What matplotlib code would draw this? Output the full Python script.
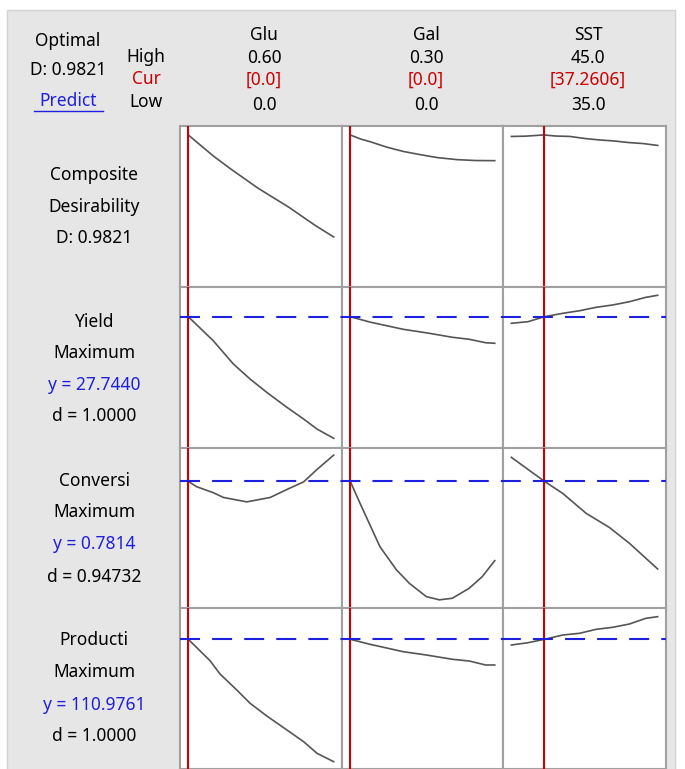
import matplotlib
matplotlib.use("Agg")
import matplotlib.pyplot as plt
from matplotlib.patches import Rectangle
from matplotlib.lines import Line2D
from matplotlib.transforms import blended_transform_factory

plt.rcParams['font.family'] = ['Noto Sans', 'DejaVu Sans']

# ---------------- data ----------------
factors = ['Glu', 'Gal', 'SST']
high_labels = ['0.60', '0.30', '45.0']
cur_labels = ['[0.0]', '[0.0]', '[37.2606]']
low_labels = ['0.0', '0.0', '35.0']
low_vals = [0.0, 0.0, 35.0]
high_vals = [0.6, 0.3, 45.0]
cur_vals = [0.0, 0.0, 37.2606]

resp_names = ['Yield', 'Conversi', 'Producti']
resp_goals = ['Maximum', 'Maximum', 'Maximum']
resp_y = [27.7440, 0.7814, 110.9761]
resp_y_labels = ['y = 27.7440', 'y = 0.7814', 'y = 110.9761']
resp_d_labels = ['d = 1.0000', 'd = 0.94732', 'd = 1.0000']
composite_D = 0.9821

# Composite desirability traces
D_glu_x = [0, 0.105, 0.175, 0.287, 0.414, 0.526, 0.6]
D_glu_y = [0.9821, 0.835, 0.748, 0.616, 0.485, 0.356, 0.279]
D_gal_x = [0, 0.021, 0.042, 0.076, 0.111, 0.146, 0.181, 0.222, 0.26, 0.3]
D_gal_y = [0.9821, 0.955, 0.935, 0.898, 0.868, 0.846, 0.826, 0.812, 0.806, 0.805]
D_sst_x = [35, 36, 37, 37.2606, 38, 39, 40, 41, 42, 43, 44, 45]
D_sst_y = [0.972, 0.974, 0.981, 0.9821, 0.975, 0.972, 0.958, 0.948, 0.941, 0.930, 0.923, 0.910]

# Yield traces
Y_glu_x = [0, 0.103, 0.186, 0.255, 0.324, 0.407, 0.476, 0.531, 0.6]
Y_glu_y = [27.744, 24.74, 21.83, 19.95, 18.28, 16.41, 14.95, 13.70, 12.54]
Y_gal_x = [0, 0.041, 0.110, 0.164, 0.212, 0.247, 0.281, 0.3]
Y_gal_y = [27.744, 27.07, 26.17, 25.67, 25.17, 24.92, 24.49, 24.42]
Y_sst_x = [35, 36.14, 37.2606, 38.52, 39.66, 40.80, 41.93, 43.07, 44.20, 45]
Y_sst_y = [26.92, 27.12, 27.744, 28.17, 28.49, 28.92, 29.21, 29.62, 30.17, 30.42]

# Conversion traces
C_glu_x = [0, 0.034, 0.103, 0.145, 0.241, 0.338, 0.407, 0.476, 0.531, 0.6]
C_glu_y = [0.7814, 0.768, 0.753, 0.741, 0.730, 0.741, 0.761, 0.780, 0.811, 0.847]
C_gal_x = [0, 0.0205, 0.0616, 0.0959, 0.123, 0.158, 0.185, 0.212, 0.247, 0.274, 0.3]
C_gal_y = [0.7814, 0.726, 0.618, 0.560, 0.526, 0.493, 0.485, 0.489, 0.514, 0.543, 0.583]
C_sst_x = [35, 37.2606, 38.52, 40.11, 41.7, 43.07, 45]
C_sst_y = [0.8414, 0.7814, 0.751, 0.7014, 0.666, 0.6264, 0.5622]

# Productivity traces
P_glu_x = [0, 0.0897, 0.131, 0.200, 0.255, 0.324, 0.407, 0.476, 0.531, 0.6]
P_glu_y = [110.98, 100.28, 93.63, 85.63, 78.98, 72.63, 65.63, 59.78, 53.98, 49.78]
P_gal_x = [0, 0.041, 0.110, 0.158, 0.212, 0.247, 0.281, 0.3]
P_gal_y = [110.98, 108.48, 104.78, 103.13, 100.98, 100.13, 98.13, 98.13]
P_sst_x = [35, 36.14, 37.2606, 38.52, 39.66, 40.80, 41.93, 43.07, 44.20, 45]
P_sst_y = [108.13, 109.28, 110.98, 113.13, 113.98, 115.98, 116.98, 118.63, 121.48, 122.28]

row_ylims = [(-0.066, 1.044), (11.33, 31.457), (0.4646, 0.8647), (46.13, 126.63)]

traces = [
    [(D_glu_x, D_glu_y), (D_gal_x, D_gal_y), (D_sst_x, D_sst_y)],
    [(Y_glu_x, Y_glu_y), (Y_gal_x, Y_gal_y), (Y_sst_x, Y_sst_y)],
    [(C_glu_x, C_glu_y), (C_gal_x, C_gal_y), (C_sst_x, C_sst_y)],
    [(P_glu_x, P_glu_y), (P_gal_x, P_gal_y), (P_sst_x, P_sst_y)],
]

# ---------------- layout ----------------
W, H = 685, 769
fig = plt.figure(figsize=(W / 100, H / 100), dpi=100)
fig.patch.set_facecolor('white')

bg = Rectangle((7 / W, -0.01), (675 - 7) / W, (769 - 10) / H + 0.01,
               transform=fig.transFigure, facecolor='#e6e6e6',
               edgecolor='#d2d2d2', lw=1.0, zorder=-5)
fig.patches.append(bg)

col_edges = [180, 342, 503, 666]
row_edges = [126, 287, 448, 608, 769]

GRID = '#a0a0a0'
RED = '#cc0000'
BLUE = '#1f1fe0'
CURVE = '#555555'
FS = 12.5


def fx(px):
    return px / W


def fy(py):
    return 1 - py / H


def ftext(x, y, s, **kw):
    kw.setdefault('fontsize', FS)
    kw.setdefault('ha', 'center')
    kw.setdefault('va', 'center')
    return fig.text(fx(x), fy(y), s, **kw)


axes = []
for r in range(4):
    row_axes = []
    for c in range(3):
        x0, x1 = col_edges[c], col_edges[c + 1]
        y0, y1 = row_edges[r], row_edges[r + 1]
        ax = fig.add_axes([fx(x0), fy(y1), (x1 - x0) / W, (y1 - y0) / H])
        ax.set_facecolor('white')
        span = high_vals[c] - low_vals[c]
        m = 0.057 * span
        ax.set_xlim(low_vals[c] - m, high_vals[c] + m)
        ax.set_ylim(*row_ylims[r])
        ax.set_xticks([])
        ax.set_yticks([])
        for s in ax.spines.values():
            s.set_color(GRID)
            s.set_linewidth(1.5)
        xs, ys = traces[r][c]
        ax.plot(xs, ys, color=CURVE, lw=1.2, zorder=3)
        ax.axvline(cur_vals[c], color=RED, lw=1.5, zorder=4)
        row_axes.append(ax)
    axes.append(row_axes)

# dashed optimum lines across each response row
for r in range(1, 4):
    ax = axes[r][0]
    tr = blended_transform_factory(fig.transFigure, ax.transData)
    yv = resp_y[r - 1]
    ln = Line2D([fx(col_edges[0]), fx(col_edges[-1])], [yv, yv], transform=tr,
                color=BLUE, lw=1.5, zorder=5, clip_on=False)
    ln.set_dashes((9.6, 5.8))
    fig.add_artist(ln)

# ---------------- header ----------------
ftext(68, 41, 'Optimal')
ftext(68, 70, 'D: ' + f'{composite_D:.4f}')
ftext(68, 101, 'Predict', color=BLUE)
fig.add_artist(Line2D([fx(34), fx(103)], [fy(111), fy(111)], color=BLUE, lw=1.0))
ftext(146, 57, 'High')
ftext(146, 79, 'Cur', color=RED)
ftext(146, 102, 'Low')

col_centers = [264, 426, 588]
for c in range(3):
    ftext(col_centers[c], 35, factors[c])
    ftext(col_centers[c], 58, high_labels[c])
    ftext(col_centers[c], 80, cur_labels[c], color=RED)
    ftext(col_centers[c], 105, low_labels[c])

# ---------------- left labels ----------------
LX = 94
ftext(LX, 175, 'Composite')
ftext(LX, 207, 'Desirability')
ftext(LX, 238, 'D: ' + f'{composite_D:.4f}')

label_ys = [(322, 353, 385, 416), (481, 512, 544, 577), (640, 672, 705, 736)]
for i in range(3):
    a, b, c_, d = label_ys[i]
    ftext(LX, a, resp_names[i])
    ftext(LX, b, resp_goals[i])
    ftext(LX, c_, resp_y_labels[i], color=BLUE)
    ftext(LX, d, resp_d_labels[i])

fig.savefig('out.png', dpi=100)
